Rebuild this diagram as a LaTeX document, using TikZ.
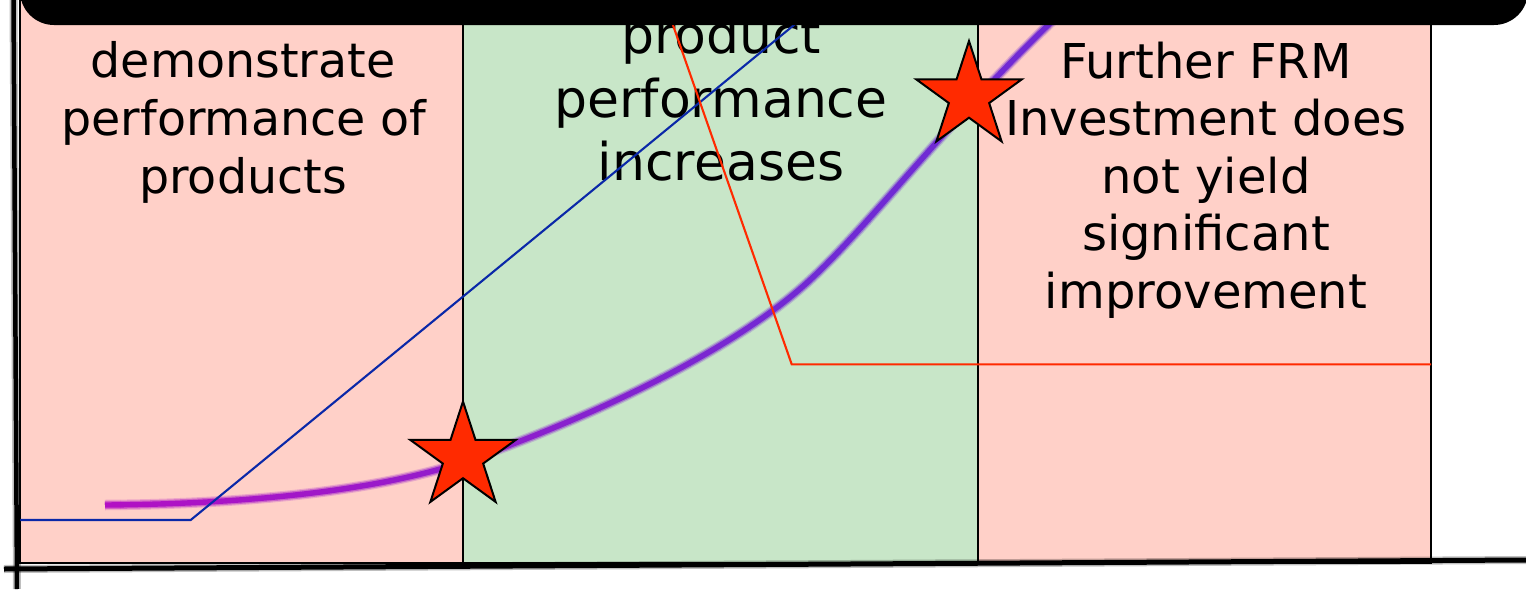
\documentclass[tikz,border=0pt]{standalone}
\usepackage{fontspec}
\setmainfont{DejaVu Sans}
\usetikzlibrary{shapes.geometric}

\definecolor{zonebad}{HTML}{FFD0C8}
\definecolor{zonegood}{HTML}{C8E6C8}
\definecolor{trendblue}{HTML}{0A28A8}
\definecolor{trendred}{HTML}{FF2A00}
\definecolor{starred}{HTML}{FF2A00}
\definecolor{curveA}{RGB}{178,16,196}
\definecolor{curveB}{RGB}{112,42,212}

\tikzset{
  zone/.style={draw=black, line width=1.8pt},
  lbl/.style={anchor=base, inner sep=0pt, text=black},
  lblA/.style={lbl, font=\fontsize{47.5}{57}\selectfont},
  lblB/.style={lbl, font=\fontsize{52}{63}\selectfont},
  lblC/.style={lbl, font=\fontsize{48}{57.5}\selectfont},
  rating/.style={star, star points=5, star point ratio=2.618, minimum size=111pt,
                 inner sep=0pt, draw=black, line width=2pt, fill=starred},
  trend/.style={line width=2.1pt},
  axis/.style={line width=4.5pt, black},
  axishalo/.style={line width=8pt, black, opacity=0.25}
}

% growth curve of product performance
\def\growthcurve{(105,505) .. controls (250,504) and (380,490) .. (463,462)
  .. controls (580,422) and (730,354) .. (810,280)
  .. controls (875,220) and (955,110) .. (1080,-5)}

\begin{document}
\begin{tikzpicture}[x=1pt,y=-1pt]
\useasboundingbox (0,0) rectangle (1526,589);
\fill[white] (0,0) rectangle (1526,589);

% three phases
\filldraw[zone, fill=zonebad]  (20,0)  rectangle (463,563);
\filldraw[zone, fill=zonegood] (463,0) rectangle (978,563);
\filldraw[zone, fill=zonebad]  (978,0) rectangle (1431,563);

% phase texts
\node[lblA] (p1a) at (243,77)  {demonstrate};
\node[lblA] (p1b) at (244,135) {performance of};
\node[lblA] (p1c) at (243,193) {products};

\node[lblB] (p2a) at (721,53)  {product};
\node[lblB] (p2b) at (721,117) {performance};
\node[lblB] (p2c) at (721,180) {increases};

\node[lblC] (p3a) at (1206,78)    {Further FRM};
\node[lblC] (p3b) at (1206,135.5) {Investment does};
\node[lblC] (p3c) at (1206,193)   {not yield};
\node[lblC] (p3d) at (1206,250.5) {significant};
\node[lblC] (p3e) at (1206,308)   {improvement};

% soft curve, colour shifting from magenta to violet
\foreach \xa in {90,120,...,1110} {
  \pgfmathsetmacro\pct{min(100,max(0,(\xa-105)/7))}
  \begin{scope}
    \clip (\xa,-20) rectangle (\xa+30,600);
    \draw[curveB!\pct!curveA, line width=10.5pt, opacity=0.22] \growthcurve;
    \draw[curveB!\pct!curveA, line width=8pt, opacity=0.45] \growthcurve;
    \draw[curveB!\pct!curveA, line width=5.4pt] \growthcurve;
  \end{scope}
}

% blue trend
\coordinate (b0) at (20,520);
\coordinate (b1) at (190.7,520);
\coordinate (b2) at (805,16);
\draw[trend, trendblue] (b0) -- (b1) -- (b2);

% red trend
\coordinate (r0) at (669.8,16);
\coordinate (r1) at (791.7,364.3);
\coordinate (r2) at (1431,364.3);
\draw[trend, trendred] (r0) -- (r1) -- (r2);

% milestones
\node[rating] (s1) at (463,457) {};
\node[rating] (s2) at (969,96.5) {};

% title bar
\fill[black, rounded corners=34pt] (20,-90) -- (20,25) -- (1528,25) -- (1528,-90) -- cycle;

% axes
\draw[axishalo] (13.5,0) -- (17,589);
\draw[axishalo] (4,569) -- (1526,560);
\draw[axis] (13.5,0) -- (17,589);
\draw[axis, line width=5pt] (4,569) -- (1526,560);
\end{tikzpicture}
\end{document}
